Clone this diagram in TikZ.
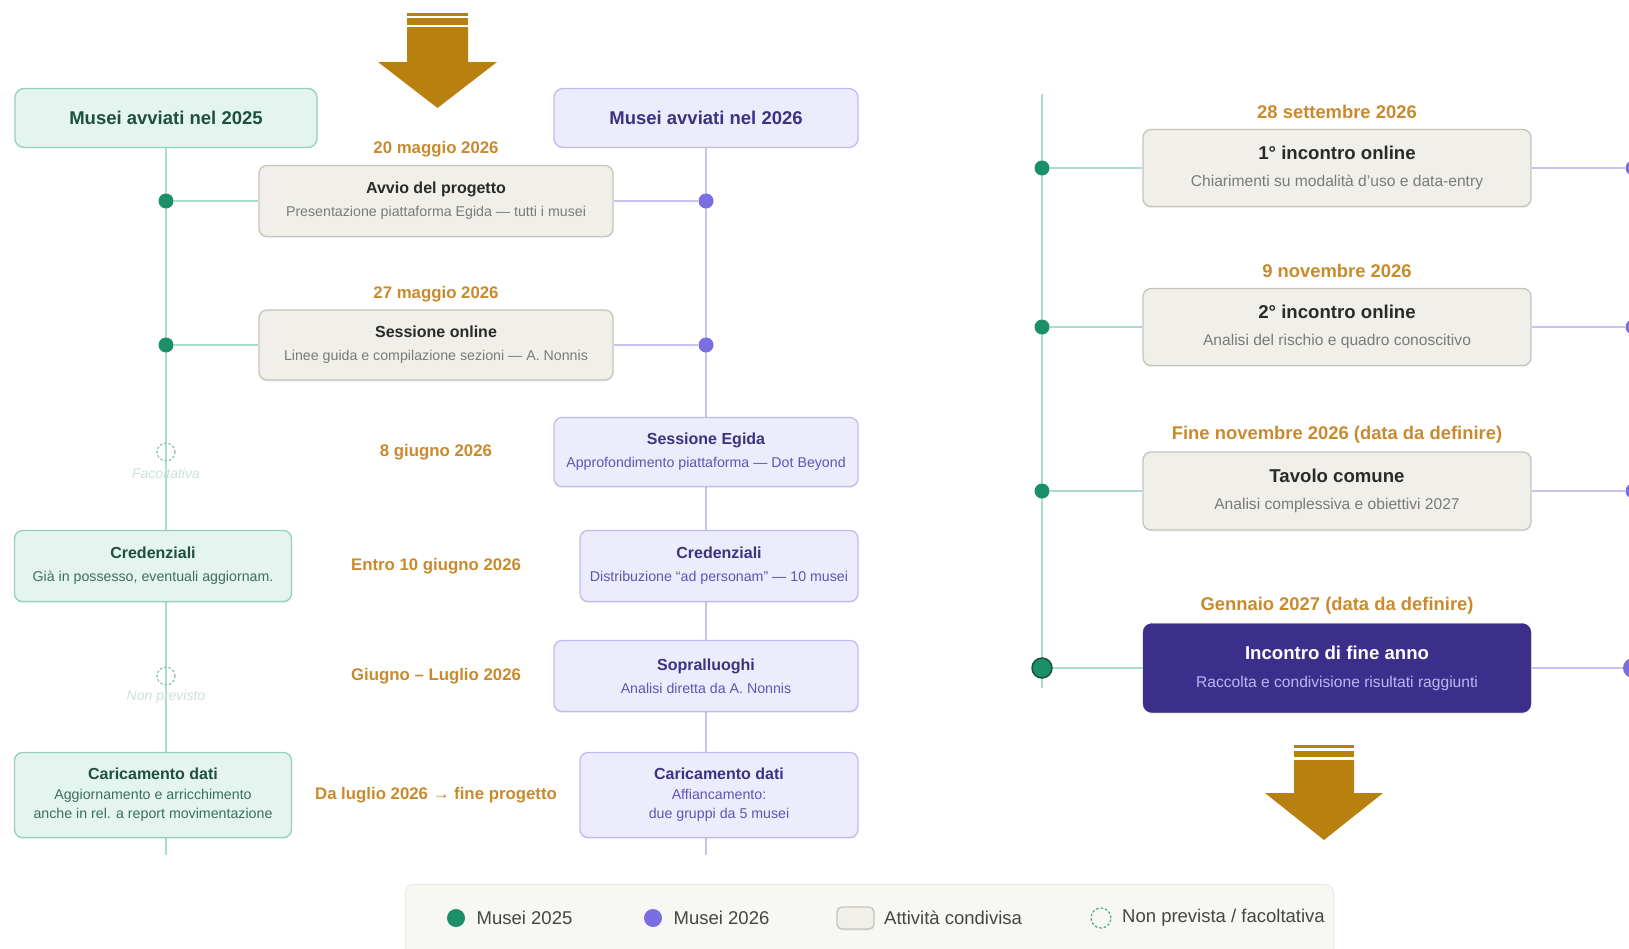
\documentclass[tikz,border=0pt]{standalone}
\usepackage{fontspec}
\setmainfont{Liberation Sans}
\usetikzlibrary{positioning}
\usetikzlibrary{backgrounds}
\usetikzlibrary{shadows}

\definecolor{green25}{HTML}{1B8F68}
\definecolor{greenline}{HTML}{ABDCCC}
\definecolor{mintfill}{HTML}{E3F5EE}
\definecolor{mintdraw}{HTML}{93D1BC}
\definecolor{greentext}{HTML}{1F4F40}
\definecolor{greensub}{HTML}{3D6E5F}
\definecolor{purple26}{HTML}{7A6EE0}
\definecolor{purpleline}{HTML}{C8C4F2}
\definecolor{lavfill}{HTML}{EDECFC}
\definecolor{lavdraw}{HTML}{BEBAF0}
\definecolor{purpletext}{HTML}{3A3382}
\definecolor{purplesub}{HTML}{5D55B4}
\definecolor{sharedfill}{HTML}{F0EFEA}
\definecolor{shareddraw}{HTML}{C6C3BB}
\definecolor{sharedtext}{HTML}{2A2A2A}
\definecolor{sharedsub}{HTML}{7A7A7A}
\definecolor{finalfill}{HTML}{3C2F8C}
\definecolor{finalsub}{HTML}{BDB6F0}
\definecolor{datecol}{HTML}{C98A2E}
\definecolor{arrowcol}{HTML}{B8800F}
\definecolor{optdraw}{HTML}{8CC7B4}
\definecolor{opttext}{HTML}{C6E3D9}
\definecolor{legendfill}{HTML}{F7F7F4}
\definecolor{legenddraw}{HTML}{EBEBE6}
\definecolor{legendtext}{HTML}{454545}

\newcommand{\subline}[1]{{\mdseries\fontsize{14.2}{17}\selectfont\color{subcol}#1}}
\newcommand{\subright}[1]{{\mdseries\fontsize{15.6}{19}\selectfont\color{subcol}#1}}

\tikzset{
	boxshadow/.style={drop shadow={shadow xshift=0pt, shadow yshift=-1.5pt, opacity=0.12}},
	head25/.style={draw=mintdraw, fill=mintfill, text=greentext, rectangle, rounded corners=9pt, line width=1.3pt, minimum width=302pt, minimum height=59pt, font=\fontsize{18.5}{22}\selectfont\bfseries},
	head26/.style={draw=lavdraw, fill=lavfill, text=purpletext, rectangle, rounded corners=9pt, line width=1.3pt, minimum width=304pt, minimum height=59pt, font=\fontsize{18.5}{22}\selectfont\bfseries},
	act25/.style={boxshadow, draw=mintdraw, fill=mintfill, text=greentext, rectangle, rounded corners=8pt, line width=1.3pt, align=center, minimum width=277pt, font=\fontsize{16}{19}\selectfont\bfseries, execute at begin node={\colorlet{subcol}{greensub}}},
	act26/.style={boxshadow, draw=lavdraw, fill=lavfill, text=purpletext, rectangle, rounded corners=8pt, line width=1.3pt, align=center, font=\fontsize{16}{19}\selectfont\bfseries, execute at begin node={\colorlet{subcol}{purplesub}}},
	shared/.style={boxshadow, draw=shareddraw, fill=sharedfill, text=sharedtext, rectangle, rounded corners=8pt, line width=1.3pt, align=center, font=\fontsize{16}{19}\selectfont\bfseries, execute at begin node={\colorlet{subcol}{sharedsub}}},
	sharedbig/.style={shared, minimum width=388pt, font=\fontsize{18.6}{22}\selectfont\bfseries},
	final/.style={boxshadow, draw=finalfill, fill=finalfill, text=white, rectangle, rounded corners=9pt, align=center, minimum width=388pt, font=\fontsize{18.6}{22}\selectfont\bfseries, execute at begin node={\colorlet{subcol}{finalsub}}},
	datelabel/.style={text=datecol, font=\fontsize{16.8}{20}\selectfont\bfseries},
	datebig/.style={text=datecol, font=\fontsize{18.4}{22}\selectfont\bfseries},
	dot25/.style={circle, fill=green25, inner sep=0pt, minimum size=15pt},
	dot26/.style={circle, fill=purple26, inner sep=0pt, minimum size=15pt},
	optional/.style={circle, draw=optdraw, dashed, dash pattern=on 2.5pt off 2pt, line width=1.3pt, inner sep=0pt, minimum size=18pt},
	optlabel/.style={text=opttext, font=\fontsize{14}{16}\selectfont\itshape},
	link25/.style={draw=greenline, line width=2pt},
	link26/.style={draw=purpleline, line width=2pt},
	legtext/.style={text=legendtext, font=\fontsize{18.5}{22}\selectfont},
}

\begin{document}
\begin{tikzpicture}[x=1pt, y=-1pt]
\useasboundingbox (0,0) rectangle (1629,948);

% column heads
\node (head25) [head25] at (166,118) {Musei avviati nel 2025};
\node (head26) [head26] at (706,118) {Musei avviati nel 2026};
\coordinate (end25) at (166,855);
\coordinate (end26) at (706,855);

% activities of both groups
\node (avvio) [shared, minimum width=354pt, minimum height=71pt] at (436,201) {Avvio del progetto\\[4pt]\subline{Presentazione piattaforma Egida — tutti i musei}};
\node (davvio) [datelabel, above=4pt of avvio] {20 maggio 2026};

\node (sessione) [shared, minimum width=354pt, minimum height=70pt] at (436,345) {Sessione online\\[4pt]\subline{Linee guida e compilazione sezioni — A. Nonnis}};
\node (dsessione) [datelabel, above=4pt of sessione] {27 maggio 2026};

\node (g1) [dot25] at (166,201) {};
\node (p1) [dot26] at (706,201) {};
\node (g2) [dot25] at (166,345) {};
\node (p2) [dot26] at (706,345) {};

% one group only
\node (egida) [act26, minimum width=304pt, minimum height=69pt] at (706,452) {Sessione Egida\\[4pt]\subline{Approfondimento piattaforma — Dot Beyond}};
\node (degida) [datelabel] at (436,452) {8 giugno 2026};
\node (opt1) [optional] at (166,452) {};
\node (lopt1) [optlabel] at (166,473) {Facoltativa};

\node (cred25) [act25, minimum height=71pt] at (153,566) {Credenziali\\[4pt]\subline{Già in possesso, eventuali aggiornam.}};
\node (cred26) [act26, minimum width=278pt, minimum height=71pt] at (719,566) {Credenziali\\[4pt]\subline{Distribuzione “ad personam” — 10 musei}};
\node (dcred) [datelabel] at (436,566) {Entro 10 giugno 2026};

\node (sopral) [act26, minimum width=304pt, minimum height=71pt] at (706,676) {Sopralluoghi\\[4pt]\subline{Analisi diretta da A. Nonnis}};
\node (dsopral) [datelabel] at (436,676) {Giugno – Luglio 2026};
\node (opt2) [optional] at (166,676) {};
\node (lopt2) [optlabel] at (166,697) {Non previsto};

\node (car25) [act25, minimum height=85pt] at (153,795) {Caricamento dati\\[1pt]\subline{Aggiornamento e arricchimento}\\\subline{anche in rel. a report movimentazione}};
\node (car26) [act26, minimum width=278pt, minimum height=85pt] at (719,795) {Caricamento dati\\[1pt]\subline{Affiancamento:}\\\subline{due gruppi da 5 musei}};
\node (dcar) [datelabel] at (436,795) {Da luglio 2026 → fine progetto};

% second part of the year
\coordinate (rtop) at (1042,94);
\coordinate (rbot) at (1042,688);

\node (inc1) [sharedbig, minimum height=77pt] at (1337,168) {1° incontro online\\[5pt]\subright{Chiarimenti su modalità d’uso e data-entry}};
\node (dinc1) [datebig, above=7pt of inc1] {28 settembre 2026};
\node (inc2) [sharedbig, minimum height=77pt] at (1337,327) {2° incontro online\\[5pt]\subright{Analisi del rischio e quadro conoscitivo}};
\node (dinc2) [datebig, above=7pt of inc2] {9 novembre 2026};
\node (tavolo) [sharedbig, minimum height=78pt] at (1337,491) {Tavolo comune\\[5pt]\subright{Analisi complessiva e obiettivi 2027}};
\node (dtavolo) [datebig, above=5pt of tavolo] {Fine novembre 2026 (data da definire)};
\node (fine) [final, minimum height=89pt] at (1337,668) {Incontro di fine anno\\[6pt]\subright{Raccolta e condivisione risultati raggiunti}};
\node (dfine) [datebig, above=5pt of fine] {Gennaio 2027 (data da definire)};

\node (g3) [dot25] at (1042,168) {};
\node (g4) [dot25] at (1042,327) {};
\node (g5) [dot25] at (1042,491) {};
\node (g6) [dot25, minimum size=20pt, draw=greentext, line width=1.5pt] at (1042,668) {};
\node (p3) [dot26] at (1633,168) {};
\node (p4) [dot26] at (1633,327) {};
\node (p5) [dot26] at (1633,491) {};
\node (p6) [dot26, minimum size=20pt] at (1633,668) {};

\begin{scope}[on background layer]
	\draw[link25] (head25) -- (end25);
	\draw[link26] (head26) -- (end26);
	\draw[link25] (rtop) -- (rbot);
\end{scope}

\begin{scope}[line width=2pt]
	\draw[link25] (g1) -- (avvio);
	\draw[link26] (avvio) -- (p1);
	\draw[link25] (g2) -- (sessione);
	\draw[link26] (sessione) -- (p2);
	\draw[link25] (g3) -- (inc1);
	\draw[link26] (inc1) -- (p3);
	\draw[link25] (g4) -- (inc2);
	\draw[link26] (inc2) -- (p4);
	\draw[link25] (g5) -- (tavolo);
	\draw[link26] (tavolo) -- (p5);
	\draw[link25] (g6) -- (fine);
	\draw[link26] (fine) -- (p6);
\end{scope}

% big arrows
\begin{scope}[shift={(437.5,13)}]
	\fill[arrowcol] (-30.5,0) rectangle (30.5,2.5);
	\fill[arrowcol] (-30.5,5) rectangle (30.5,12);
	\fill[arrowcol] (-30.5,14) -- (30.5,14) -- (30.5,49) -- (59.5,49) -- (0,95) -- (-59.5,49) -- (-30.5,49) -- cycle;
\end{scope}
\begin{scope}[shift={(1324,745)}]
	\fill[arrowcol] (-30,0) rectangle (30,3);
	\fill[arrowcol] (-30,6) rectangle (30,12);
	\fill[arrowcol] (-30,15) -- (30,15) -- (30,48) -- (59,48) -- (0,95) -- (-59,48) -- (-30,48) -- cycle;
\end{scope}

% legend
\node (legend) [draw=legenddraw, fill=legendfill, rounded corners=8pt, line width=1pt, minimum width=928pt, minimum height=80pt, anchor=north west] at (405,884) {};
\node (lgdot25) [dot25, minimum size=18pt] at (456,918) {};
\node (lgtxt25) [legtext, right=8pt of lgdot25] {Musei 2025};
\node (lgdot26) [dot26, minimum size=18pt] at (653,918) {};
\node (lgtxt26) [legtext, right=8pt of lgdot26] {Musei 2026};
\node (lgshared) [shared, minimum width=37pt, minimum height=22pt, rounded corners=5pt] at (855.5,918) {};
\node (lgtxtshared) [legtext, right=6pt of lgshared] {Attività condivisa};
\node (lgopt) [optional, draw=green25!75, minimum size=20pt] at (1101,918) {};
\node (lgtxtopt) [legtext, right=7pt of lgopt] {Non prevista / facoltativa};

\end{tikzpicture}
\end{document}
